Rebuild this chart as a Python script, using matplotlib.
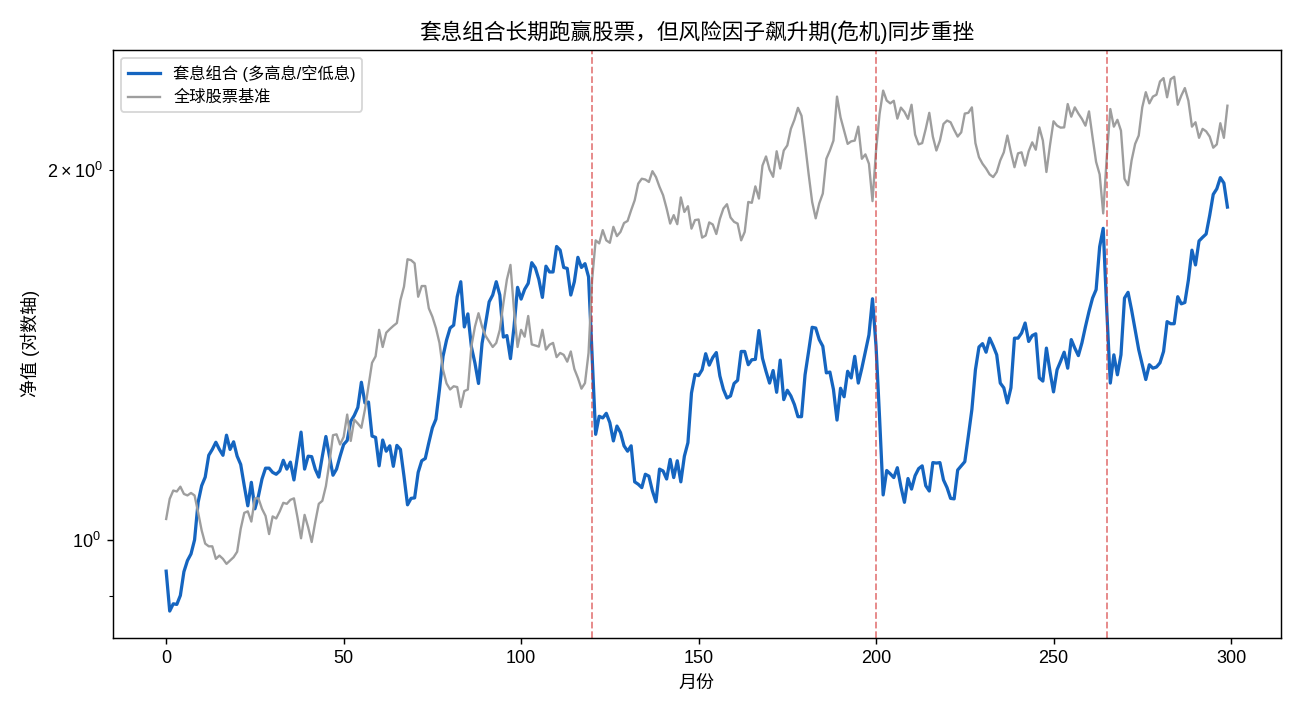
import numpy as np
import matplotlib
matplotlib.use("Agg")
import matplotlib.pyplot as plt

plt.rcParams['font.family'] = ['Liberation Sans', 'Noto Sans CJK SC', 'DejaVu Sans']

# 套息组合净值 (月度)
carry = [
    0.943, 0.875, 0.887, 0.886, 0.901, 0.942, 0.962, 0.974, 1.000, 1.073,
    1.107, 1.125, 1.172, 1.185, 1.201, 1.185, 1.172, 1.217, 1.185, 1.202,
    1.170, 1.152, 1.107, 1.066, 1.114, 1.060, 1.086, 1.121, 1.144, 1.144,
    1.135, 1.131, 1.138, 1.161, 1.142, 1.157, 1.119, 1.170, 1.224, 1.142,
    1.170, 1.169, 1.142, 1.125, 1.170, 1.214, 1.170, 1.129, 1.142, 1.170,
    1.196, 1.205, 1.249, 1.263, 1.282, 1.344, 1.293, 1.295, 1.215, 1.212,
    1.149, 1.206, 1.181, 1.193, 1.148, 1.194, 1.185, 1.127, 1.068, 1.081,
    1.082, 1.135, 1.160, 1.165, 1.200, 1.234, 1.254, 1.326, 1.411, 1.455,
    1.488, 1.496, 1.578, 1.623, 1.491, 1.528, 1.436, 1.393, 1.341, 1.446,
    1.501, 1.563, 1.583, 1.623, 1.583, 1.463, 1.467, 1.405, 1.491, 1.606,
    1.571, 1.600, 1.618, 1.682, 1.666, 1.630, 1.576, 1.671, 1.653, 1.653,
    1.734, 1.722, 1.667, 1.664, 1.583, 1.623, 1.699, 1.667, 1.679, 1.638,
    1.411, 1.219, 1.261, 1.257, 1.268, 1.246, 1.204, 1.238, 1.223, 1.193,
    1.181, 1.193, 1.115, 1.110, 1.103, 1.131, 1.127, 1.096, 1.074, 1.142,
    1.138, 1.121, 1.163, 1.124, 1.160, 1.115, 1.170, 1.200, 1.317, 1.364,
    1.361, 1.376, 1.418, 1.388, 1.408, 1.421, 1.360, 1.326, 1.305, 1.310,
    1.341, 1.349, 1.424, 1.424, 1.389, 1.402, 1.403, 1.481, 1.406, 1.372,
    1.342, 1.374, 1.319, 1.401, 1.301, 1.324, 1.310, 1.289, 1.260, 1.260,
    1.363, 1.424, 1.490, 1.488, 1.456, 1.438, 1.368, 1.370, 1.326, 1.252,
    1.329, 1.308, 1.372, 1.355, 1.411, 1.342, 1.380, 1.424, 1.469, 1.572,
    1.438, 1.256, 1.088, 1.139, 1.132, 1.124, 1.145, 1.105, 1.073, 1.122,
    1.100, 1.128, 1.143, 1.149, 1.107, 1.096, 1.156, 1.155, 1.156, 1.119,
    1.103, 1.081, 1.080, 1.140, 1.149, 1.158, 1.215, 1.277, 1.376, 1.436,
    1.445, 1.422, 1.460, 1.439, 1.415, 1.342, 1.330, 1.293, 1.330, 1.460,
    1.460, 1.474, 1.502, 1.451, 1.467, 1.472, 1.355, 1.347, 1.433, 1.372,
    1.320, 1.376, 1.398, 1.422, 1.380, 1.456, 1.433, 1.413, 1.447, 1.492,
    1.535, 1.574, 1.599, 1.733, 1.794, 1.539, 1.342, 1.415, 1.363, 1.415,
    1.574, 1.591, 1.539, 1.483, 1.429, 1.389, 1.351, 1.389, 1.380, 1.383,
    1.394, 1.424, 1.506, 1.500, 1.500, 1.578, 1.557, 1.561, 1.628, 1.722,
    1.675, 1.752, 1.764, 1.775, 1.838, 1.912, 1.932, 1.973, 1.953, 1.867,
]

# 全球股票基准净值 (月度)
equity = [
    1.040, 1.080, 1.097, 1.095, 1.105, 1.090, 1.087, 1.092, 1.087, 1.053,
    1.018, 0.993, 0.988, 0.988, 0.965, 0.971, 0.965, 0.956, 0.962, 0.968,
    0.978, 1.021, 1.052, 1.055, 1.035, 1.081, 1.081, 1.060, 1.046, 1.011,
    1.045, 1.041, 1.055, 1.072, 1.070, 1.078, 1.081, 1.043, 1.003, 1.048,
    1.024, 0.996, 1.034, 1.070, 1.076, 1.106, 1.156, 1.217, 1.219, 1.196,
    1.213, 1.265, 1.204, 1.253, 1.244, 1.234, 1.277, 1.334, 1.394, 1.411,
    1.483, 1.436, 1.475, 1.485, 1.494, 1.502, 1.568, 1.608, 1.693, 1.690,
    1.680, 1.578, 1.610, 1.610, 1.544, 1.520, 1.488, 1.447, 1.376, 1.341,
    1.326, 1.334, 1.332, 1.283, 1.322, 1.326, 1.438, 1.492, 1.530, 1.492,
    1.466, 1.451, 1.436, 1.447, 1.483, 1.558, 1.630, 1.675, 1.539, 1.436,
    1.483, 1.464, 1.522, 1.443, 1.440, 1.437, 1.483, 1.429, 1.442, 1.447,
    1.409, 1.420, 1.415, 1.397, 1.424, 1.378, 1.355, 1.328, 1.342, 1.420,
    1.628, 1.754, 1.744, 1.788, 1.754, 1.746, 1.799, 1.768, 1.782, 1.812,
    1.819, 1.856, 1.891, 1.951, 1.969, 1.966, 1.957, 1.997, 1.975, 1.939,
    1.909, 1.862, 1.810, 1.839, 1.808, 1.901, 1.850, 1.870, 1.793, 1.822,
    1.824, 1.763, 1.770, 1.814, 1.807, 1.775, 1.826, 1.862, 1.877, 1.831,
    1.816, 1.810, 1.754, 1.782, 1.885, 1.882, 1.941, 1.897, 2.018, 2.053,
    2.003, 1.976, 2.073, 2.007, 2.076, 2.096, 2.162, 2.199, 2.249, 2.216,
    2.102, 1.987, 1.885, 1.828, 1.880, 1.915, 2.044, 2.076, 2.115, 2.297,
    2.209, 2.155, 2.102, 2.112, 2.115, 2.171, 2.044, 2.061, 2.025, 1.888,
    2.076, 2.224, 2.323, 2.280, 2.268, 2.279, 2.204, 2.250, 2.232, 2.203,
    2.262, 2.139, 2.100, 2.105, 2.162, 2.228, 2.131, 2.076, 2.115, 2.182,
    2.196, 2.189, 2.158, 2.131, 2.148, 2.225, 2.228, 2.251, 2.105, 2.050,
    2.025, 2.007, 1.985, 1.975, 1.994, 2.038, 2.069, 2.135, 2.069, 2.012,
    2.065, 2.069, 2.018, 2.073, 2.108, 2.079, 2.168, 2.115, 1.994, 2.096,
    2.193, 2.175, 2.167, 2.168, 2.265, 2.212, 2.251, 2.225, 2.203, 2.175,
    2.234, 2.128, 2.032, 1.985, 1.845, 2.050, 2.244, 2.171, 2.199, 2.155,
    1.969, 1.945, 2.038, 2.102, 2.135, 2.251, 2.316, 2.268, 2.297, 2.305,
    2.363, 2.378, 2.294, 2.373, 2.384, 2.262, 2.301, 2.334, 2.279, 2.171,
    2.189, 2.126, 2.162, 2.152, 2.131, 2.087, 2.100, 2.185, 2.126, 2.258,
]

crisis_months = [120, 200, 265]

months = np.arange(len(carry))

fig, ax = plt.subplots(figsize=(10, 5.5), dpi=130)
fig.subplots_adjust(left=0.087, right=0.985, bottom=0.108, top=0.930)

ax.plot(months, carry, color='#1565c0', lw=1.8, label='套息组合 (多高息/空低息)')
ax.plot(months, equity, color='#9e9e9e', lw=1.3, label='全球股票基准')
for m in crisis_months:
    ax.axvline(m, color='#d32f2f', ls='--', lw=1.0, alpha=0.6)

ax.set_yscale('log')
ax.set_title('套息组合长期跑赢股票，但风险因子飙升期(危机)同步重挫', fontsize=12)
ax.set_xlabel('月份')
ax.set_ylabel('净值 (对数轴)')
ax.legend(loc='upper left', fontsize=9)

plt.savefig('out.png')
